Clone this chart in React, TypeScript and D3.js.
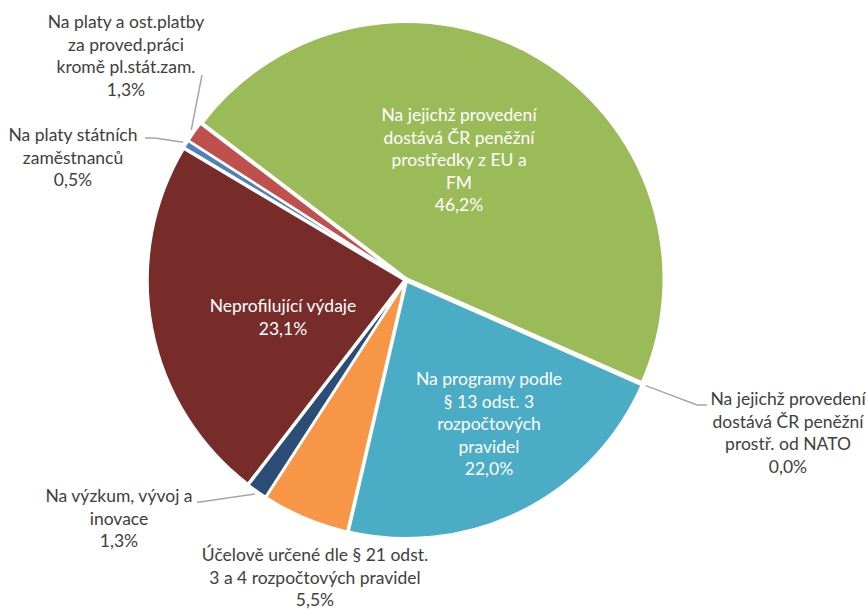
import React from "react";
import * as d3 from "d3";

const categories = [
  "Na jejichž provedení dostává ČR peněžní prostředky z EU a FM",
  "Na jejichž provedení dostává ČR peněžní prostř. od NATO",
  "Na programy podle § 13 odst. 3 rozpočtových pravidel",
  "Účelově určené dle § 21 odst. 3 a 4 rozpočtových pravidel",
  "Na výzkum, vývoj a inovace",
  "Neprofilující výdaje",
  "Na platy státních zaměstnanců",
  "Na platy a ost.platby za proved.práci kromě pl.stát.zam.",
];
const values = [46.2, 0.0, 22.0, 5.5, 1.3, 23.1, 0.5, 1.3];
const percentLabels = ["46,2%", "0,0%", "22,0%", "5,5%", "1,3%", "23,1%", "0,5%", "1,3%"];
const labelLines = [
  ["Na jejichž provedení", "dostává ČR peněžní", "prostředky z EU a", "FM"],
  ["Na jejichž provedení", "dostává ČR peněžní", "prostř. od NATO"],
  ["Na programy podle", "§ 13 odst. 3", "rozpočtových", "pravidel"],
  ["Účelově určené dle § 21 odst.", "3 a 4 rozpočtových pravidel"],
  ["Na výzkum, vývoj a", "inovace"],
  ["Neprofilující výdaje"],
  ["Na platy státních", "zaměstnanců"],
  ["Na platy a ost.platby", "za proved.práci", "kromě pl.stát.zam."],
];
const colors = ["#9BBB59", "#4BACC6", "#4BACC6", "#F79646", "#2C4D75", "#772C2A", "#4F81BD", "#C0504D"];

// layout (not data)
const W = 866, H = 610;
const CX = 406, CY = 280, R = 257;
const EXPLODE = 1.5;
const START = (-52.7 * Math.PI) / 180;
const LINE_H = 22.5;
const FONT = "Lato, 'Noto Sans', sans-serif";
const FONT_SIZE = 17.5;
const labelPos: { x: number; y: number; inside: boolean; leader?: [number, number][] }[] = [
  { x: 459, y: 121, inside: true },
  { x: 788, y: 405, inside: false, leader: [[697, 405], [707, 405]] },
  { x: 489, y: 385, inside: true },
  { x: 315, y: 561, inside: false },
  { x: 119, y: 502, inside: false, leader: [[200, 502], [197, 502]] },
  { x: 283, y: 312, inside: true },
  { x: 73, y: 141, inside: false, leader: [[155, 138], [145, 138]] },
  { x: 126, y: 28, inside: false, leader: [[202, 75]] },
];

export default function App() {
  const pie = d3
    .pie<number>()
    .sort(null)
    .value((d) => d)
    .startAngle(START)
    .endAngle(START + 2 * Math.PI);
  const arcs = pie(values);
  const arc = d3.arc<d3.PieArcDatum<number>>().innerRadius(0).outerRadius(R);

  return (
    <svg
      width={W}
      height={H}
      style={{ position: "absolute", left: 0, top: 0, background: "#fff" }}
      fontFamily={FONT}
      fontSize={FONT_SIZE}
    >
      <g transform={`translate(${CX},${CY})`}>
        {arcs.map((a, i) => {
          if (a.endAngle - a.startAngle <= 0) return null;
          const mid = (a.startAngle + a.endAngle) / 2;
          const dx = Math.sin(mid) * EXPLODE;
          const dy = -Math.cos(mid) * EXPLODE;
          return (
            <path
              key={i}
              d={arc(a) || ""}
              transform={`translate(${dx},${dy})`}
              fill={colors[i]}
              stroke="#fff"
              strokeWidth={2.5}
              strokeLinejoin="round"
            />
          );
        })}
      </g>
      {arcs.map((a, i) => {
        const lp = labelPos[i];
        if (!lp.leader) return null;
        const mid = (a.startAngle + a.endAngle) / 2;
        const sx = CX + Math.sin(mid) * (R + 5);
        const sy = CY - Math.cos(mid) * (R + 5);
        const pts: [number, number][] = [[sx, sy], ...lp.leader];
        return (
          <path
            key={"l" + i}
            d={d3.line()(pts) || ""}
            fill="none"
            stroke="#A6A6A6"
            strokeWidth={1.5}
          />
        );
      })}
      {labelPos.map((lp, i) => {
        const lines = [...labelLines[i], percentLabels[i]];
        return (
          <text
            key={"t" + i}
            x={lp.x}
            y={lp.y}
            textAnchor="middle"
            fill={lp.inside ? "#FFFFFF" : "#404040"}
          >
            {lines.map((ln, j) => (
              <tspan key={j} x={lp.x} y={lp.y + j * LINE_H}>
                {ln}
              </tspan>
            ))}
          </text>
        );
      })}
    </svg>
  );
}
